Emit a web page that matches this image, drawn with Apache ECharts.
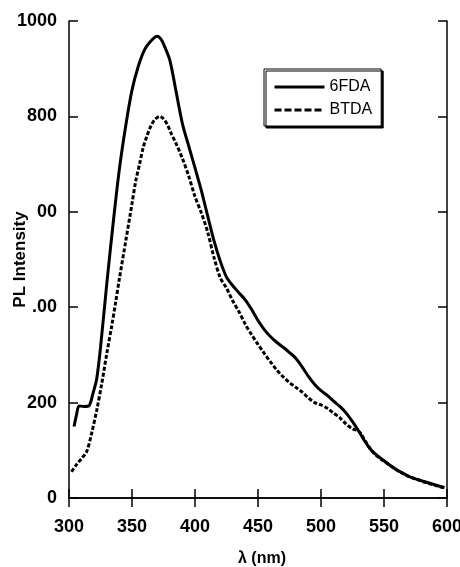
<!DOCTYPE html>
<html>
<head>
<meta charset="utf-8">
<script src="https://cdn.jsdelivr.net/npm/echarts@6/dist/echarts.min.js"></script>
<style>
  html, body { margin: 0; padding: 0; background: #fff; }
  #main { width: 460px; height: 567px; }
</style>
</head>
<body>
<div id="main"></div>
<script>
// PL spectra, 6FDA vs BTDA
var seriesNames = ['6FDA', 'BTDA'];

var wl6FDA = [304, 306, 308, 312, 316, 319, 322, 325, 330, 335, 340, 345, 350, 355, 360, 365, 370, 373, 375, 380,
    385, 390, 395, 400, 405, 410, 415, 420, 425, 430, 435, 440, 445, 450, 455, 460, 465, 470, 475, 480,
    485, 490, 495, 500, 505, 510, 515, 520, 525, 530, 535, 540, 545, 550, 555, 560, 565, 570, 575, 580,
    585, 590, 595, 598];
var int6FDA = [150, 175, 193, 192, 194, 219, 250, 315, 450, 575, 690, 780, 855, 905, 940, 958, 968, 962, 952, 918,
    852, 785, 738, 692, 645, 592, 540, 497, 463, 445, 430, 415, 395, 372, 353, 338, 326, 316, 305, 293,
    275, 255, 238, 225, 215, 203, 192, 178, 160, 140, 118, 100, 88, 78, 68, 59, 52, 45, 40, 36,
    32, 28, 24, 22];

var wlBTDA = [302, 306, 310, 314, 318, 322, 326, 330, 334, 337, 340, 345, 350, 353, 356, 359, 362, 365, 368, 372,
    375, 378, 381, 385, 390, 395, 400, 405, 410, 415, 420, 425, 430, 435, 440, 445, 450, 455, 460, 465,
    470, 475, 480, 485, 490, 495, 500, 505, 510, 515, 520, 525, 530, 535, 540, 545, 550, 555, 560, 565,
    570, 575, 580, 585, 590, 595, 598];
var intBTDA = [55, 70, 83, 97, 136, 184, 240, 303, 362, 410, 460, 538, 617, 665, 700, 736, 760, 780, 793, 800,
    795, 783, 765, 743, 712, 675, 632, 598, 558, 505, 462, 440, 413, 390, 364, 342, 322, 303, 285, 268,
    254, 242, 232, 222, 210, 200, 195, 188, 178, 168, 155, 145, 140, 120, 100, 87, 77, 68, 59, 51,
    45, 40, 35, 31, 27, 23, 21];

var xTicks = [300, 350, 400, 450, 500, 550, 600];
var yTicks = [0, 200, 400, 600, 800, 1000];
var yTickLabels = ['0', '200', '.00', '00', '800', '1000'];

function pairs(xs, ys) {
    var out = [];
    for (var i = 0; i < xs.length; i++) {
        out.push([xs[i], ys[i]]);
    }
    return out;
}

var font = '"Liberation Sans", Arial, sans-serif';
var axisLine = { show: true, lineStyle: { color: '#000', width: 1.5 } };
var tick = { show: true, inside: true, length: 9, lineStyle: { color: '#000', width: 1.5 } };

var chart = echarts.init(document.getElementById('main'));
var option = {
    animation: false,
    backgroundColor: '#fff',
    grid: { left: 69, right: 13, top: 21, bottom: 69, containLabel: false, outerBoundsMode: 'none' },
    legend: {
        orient: 'vertical',
        left: 264,
        top: 69,
        padding: [10, 9, 8, 9],
        itemWidth: 50,
        itemHeight: 14,
        itemGap: 7,
        backgroundColor: '#fff',
        borderColor: '#000',
        borderWidth: 1,
        borderRadius: 0,
        shadowColor: '#000',
        shadowBlur: 0,
        shadowOffsetX: 2,
        shadowOffsetY: 2,
        itemStyle: { opacity: 0 },
        textStyle: { fontFamily: font, fontSize: 16, color: '#000' },
        data: [
            { name: seriesNames[0], itemStyle: { opacity: 0 }, lineStyle: { width: 3, type: 'solid' } },
            { name: seriesNames[1], itemStyle: { opacity: 0 }, lineStyle: { width: 3, type: [7, 3] } }
        ]
    },
    xAxis: [{
        type: 'value',
        position: 'bottom',
        min: xTicks[0],
        max: xTicks[xTicks.length - 1],
        interval: 50,
        axisLine: axisLine,
        axisTick: tick,
        axisLabel: { margin: 20, fontFamily: font, fontSize: 18, fontWeight: 'bold', color: '#000' },
        splitLine: { show: false },
        name: 'λ (nm)',
        nameLocation: 'middle',
        nameGap: 53,
        nameMoveOverlap: false,
        nameTextStyle: { fontFamily: font, fontSize: 16, fontWeight: 'bold', color: '#000', padding: [0, 0, 0, 8] }
    }, {
        type: 'value',
        position: 'top',
        min: xTicks[0],
        max: xTicks[xTicks.length - 1],
        interval: 50,
        axisLine: axisLine,
        axisTick: tick,
        axisLabel: { show: false },
        splitLine: { show: false }
    }],
    yAxis: [{
        type: 'value',
        position: 'left',
        min: yTicks[0],
        max: yTicks[yTicks.length - 1],
        interval: 200,
        axisLine: axisLine,
        axisTick: tick,
        axisLabel: {
            margin: 12,
            fontFamily: font, fontSize: 18, fontWeight: 'bold', color: '#000',
            formatter: function (v) {
                var i = yTicks.indexOf(v);
                return i >= 0 ? yTickLabels[i] : '';
            }
        },
        splitLine: { show: false },
        name: 'PL Intensity',
        nameLocation: 'middle',
        nameGap: 40,
        nameRotate: 90,
        nameMoveOverlap: false,
        nameTextStyle: { fontFamily: font, fontSize: 17, fontWeight: 'bold', color: '#000' }
    }, {
        type: 'value',
        position: 'right',
        min: yTicks[0],
        max: yTicks[yTicks.length - 1],
        interval: 200,
        axisLine: axisLine,
        axisTick: tick,
        axisLabel: { show: false },
        splitLine: { show: false }
    }],
    series: [{
        name: seriesNames[0],
        type: 'line',
        xAxisIndex: 0,
        yAxisIndex: 0,
        symbol: 'none',
        smooth: 0.3,
        lineStyle: { color: '#000', width: 3 },
        itemStyle: { color: '#000' },
        data: pairs(wl6FDA, int6FDA)
    }, {
        name: seriesNames[1],
        type: 'line',
        xAxisIndex: 0,
        yAxisIndex: 0,
        symbol: 'none',
        smooth: 0.3,
        lineStyle: { color: '#000', width: 3, type: [4, 2] },
        itemStyle: { color: '#000' },
        data: pairs(wlBTDA, intBTDA)
    }]
};
chart.setOption(option);
</script>
</body>
</html>
